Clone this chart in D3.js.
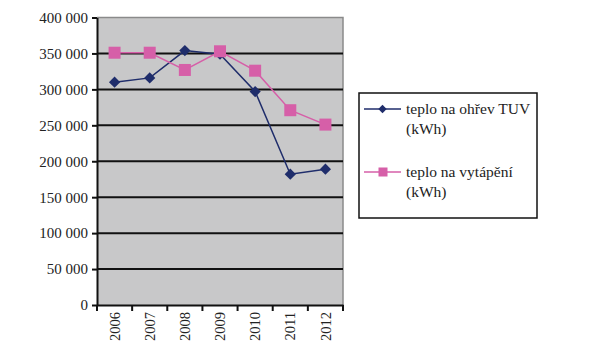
<!DOCTYPE html>
<html><head><meta charset="utf-8">
<script src="https://cdn.jsdelivr.net/npm/d3@7"></script>
</head><body style="margin:0;background:#fff">
<script>
const years = ["2006","2007","2008","2009","2010","2011","2012"];
const tuv = [310000, 316000, 354000, 349000, 297000, 182000, 189000];
const vytapeni = [351000, 351000, 327000, 353000, 326000, 271000, 251000];
const yTicks = [0, 50000, 100000, 150000, 200000, 250000, 300000, 350000, 400000];
const seriesNames = [["teplo na ohřev TUV", "(kWh)"], ["teplo na vytápění", "(kWh)"]];
const colors = ["#1f2d6b", "#d65fa8"];
const FONT = "Liberation Serif";

const W = 600, H = 359;
const m = {left: 97, right: 257, top: 17.5, bottom: 54};
const svg = d3.select("body").append("svg").attr("width", W).attr("height", H).style("display", "block");
const x = d3.scaleBand().domain(years).range([m.left, W - m.right]);
const y = d3.scaleLinear().domain([0, 400000]).range([H - m.bottom, m.top]);
const fmt = v => d3.format(",")(v).replace(/,/g, " ");

svg.append("rect").attr("x", m.left).attr("y", m.top).attr("width", W - m.right - m.left)
  .attr("height", H - m.bottom - m.top).attr("fill", "#c8c8c9");
svg.append("path").attr("d", `M${m.left},${m.top}H${W - m.right}V${H - m.bottom}`)
  .attr("fill", "none").attr("stroke", "#8a8a8a").attr("stroke-width", 1.5);

svg.append("g").selectAll("line").data(yTicks.filter(d => d > 0 && d < 400000)).join("line")
  .attr("x1", m.left).attr("x2", W - m.right).attr("y1", d => y(d)).attr("y2", d => y(d))
  .attr("stroke", "#111").attr("stroke-width", 2);

const ya = svg.append("g").attr("transform", `translate(${m.left},0)`)
  .call(d3.axisLeft(y).tickValues(yTicks).tickFormat(fmt).tickSize(5).tickSizeOuter(0));
ya.attr("font-family", FONT).attr("font-size", 15);
ya.select(".domain").attr("stroke", "#111").attr("stroke-width", 2);
ya.selectAll(".tick line").attr("stroke", "#111").attr("stroke-width", 2);
ya.selectAll("text").attr("font-family", FONT).attr("font-size", 15).attr("fill", "#222").attr("x", -9);

const xa = svg.append("g").attr("transform", `translate(0,${H - m.bottom})`)
  .call(d3.axisBottom(x).tickSize(0).tickSizeOuter(0));
xa.attr("font-family", FONT).attr("font-size", 14.5);
xa.select(".domain").attr("stroke", "#111").attr("stroke-width", 2);
xa.selectAll(".tick line").remove();
xa.selectAll("line.xt").data(d3.range(years.length + 1)).join("line").attr("class", "xt")
  .attr("x1", i => m.left + i * x.step()).attr("x2", i => m.left + i * x.step())
  .attr("y1", 0).attr("y2", 6).attr("stroke", "#111").attr("stroke-width", 2);
xa.selectAll(".tick text").attr("font-family", FONT).attr("font-size", 14.5).attr("fill", "#222")
  .attr("transform", "rotate(-90)").attr("text-anchor", "end").attr("x", -7).attr("y", 0).attr("dy", "0.35em");

const cx = d => x(d) + x.bandwidth() / 2;
const line = d3.line().x((d, i) => cx(years[i])).y(d => y(d));

svg.append("path").datum(tuv).attr("d", line).attr("fill", "none").attr("stroke", colors[0]).attr("stroke-width", 1.5);
const diamond = d3.symbol().type(d3.symbolDiamond2).size(80);
svg.append("g").selectAll("path").data(tuv).join("path")
  .attr("d", diamond).attr("transform", (d, i) => `translate(${cx(years[i])},${y(d)})`)
  .attr("fill", colors[0]);
svg.append("path").datum(vytapeni).attr("d", line).attr("fill", "none").attr("stroke", colors[1]).attr("stroke-width", 1.5);
svg.append("g").selectAll("rect").data(vytapeni).join("rect")
  .attr("x", (d, i) => cx(years[i]) - 6).attr("y", d => y(d) - 6).attr("width", 12).attr("height", 12)
  .attr("fill", colors[1]);

const lg = svg.append("g");
lg.append("rect").attr("x", 359).attr("y", 93).attr("width", 178).attr("height", 125)
  .attr("fill", "#fff").attr("stroke", "#111").attr("stroke-width", 1.5);
const ly = [109, 172];
seriesNames.forEach((nm, k) => {
  lg.append("line").attr("x1", 364).attr("x2", 401).attr("y1", ly[k]).attr("y2", ly[k])
    .attr("stroke", colors[k]).attr("stroke-width", 1.5);
  if (k === 0) {
    lg.append("path").attr("d", d3.symbol().type(d3.symbolDiamond2).size(45)())
      .attr("transform", `translate(382.5,${ly[k]})`).attr("fill", colors[0]);
  } else {
    lg.append("rect").attr("x", 378.5).attr("y", ly[k] - 4.5).attr("width", 9).attr("height", 9).attr("fill", colors[1]);
  }
  lg.append("text").attr("x", 406).attr("y", ly[k] + 4.5)
    .attr("font-family", FONT).attr("font-size", 15.5).attr("fill", "#222").text(nm[0]);
  lg.append("text").attr("x", 406).attr("y", ly[k] + 24.5)
    .attr("font-family", FONT).attr("font-size", 15.5).attr("fill", "#222").text(nm[1]);
});
</script>
</body></html>
